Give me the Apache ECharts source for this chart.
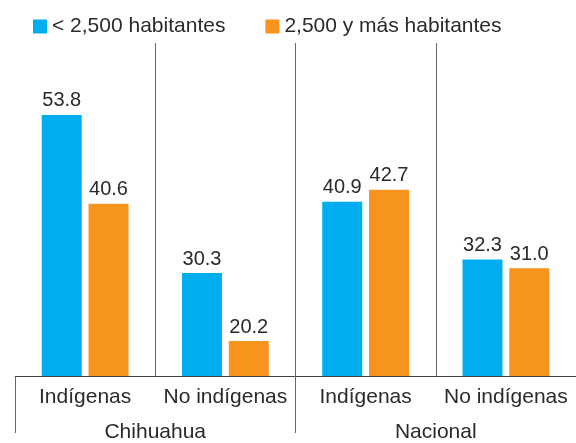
<!DOCTYPE html>
<html>
<head>
<meta charset="utf-8">
<script src="https://cdn.jsdelivr.net/npm/echarts@6/dist/echarts.min.js"></script>
<style>
  html, body { margin: 0; padding: 0; background: #ffffff; }
  #chart { width: 576px; height: 443px; }
</style>
</head>
<body>
<div id="chart"></div>
<script>
  // datos
  const categorias = ['Indígenas', 'No indígenas', 'Indígenas', 'No indígenas'];
  const grupos = ['Chihuahua', 'Nacional'];
  const menos2500 = [53.8, 30.3, 40.9, 32.3];
  const mas2500 = [40.6, 20.2, 42.7, 31.0];
  const nombres = ['< 2,500 habitantes', '2,500 y más habitantes'];

  const fuente = 'Liberation Sans';
  const texto = '#2a2a2a';
  const linea = '#666666';

  const myChart = echarts.init(document.getElementById('chart'));

  const etiqueta = {
    show: true,
    position: 'top',
    distance: 4,
    fontFamily: fuente,
    fontSize: 20,
    color: texto,
    formatter: (p) => p.value.toFixed(1)
  };

  let option = {
    animation: false,
    textStyle: { fontFamily: fuente },
    legend: {
      data: nombres,
      top: 16,
      left: 33,
      padding: 0,
      icon: 'rect',
      itemWidth: 14,
      itemHeight: 14,
      itemGap: 40,
      textStyle: { fontFamily: fuente, fontSize: 21, color: texto }
    },
    grid: {
      left: 15,
      right: 0,
      top: 43,
      bottom: 67,
      containLabel: false
    },
    xAxis: [
      {
        type: 'category',
        data: categorias,
        position: 'bottom',
        axisLine: { show: true, lineStyle: { color: '#444444', width: 1 } },
        axisTick: { show: false },
        splitLine: {
          show: true,
          interval: 0,
          showMinLine: false,
          showMaxLine: false,
          lineStyle: { color: linea, width: 1 }
        },
        axisLabel: { interval: 0, fontFamily: fuente, fontSize: 21, color: texto, margin: 11 }
      },
      {
        type: 'category',
        data: grupos,
        position: 'bottom',
        axisLine: { show: false },
        axisTick: { show: true, interval: 0, length: 57, lineStyle: { color: linea, width: 1 } },
        splitLine: { show: false },
        axisLabel: { interval: 0, fontFamily: fuente, fontSize: 21, color: texto, margin: 46 }
      }
    ],
    yAxis: {
      type: 'value',
      min: 15,
      max: 64.5,
      show: false,
      splitLine: { show: false }
    },
    series: [
      {
        name: nombres[0],
        type: 'bar',
        xAxisIndex: 0,
        barWidth: 40,
        barGap: '17%',
        itemStyle: { color: '#00aeef' },
        label: etiqueta,
        data: menos2500
      },
      {
        name: nombres[1],
        type: 'bar',
        xAxisIndex: 0,
        barWidth: 40,
        barGap: '17%',
        itemStyle: { color: '#f7941d' },
        label: etiqueta,
        data: mas2500
      }
    ]
  };

  myChart.setOption(option);
</script>
</body>
</html>
